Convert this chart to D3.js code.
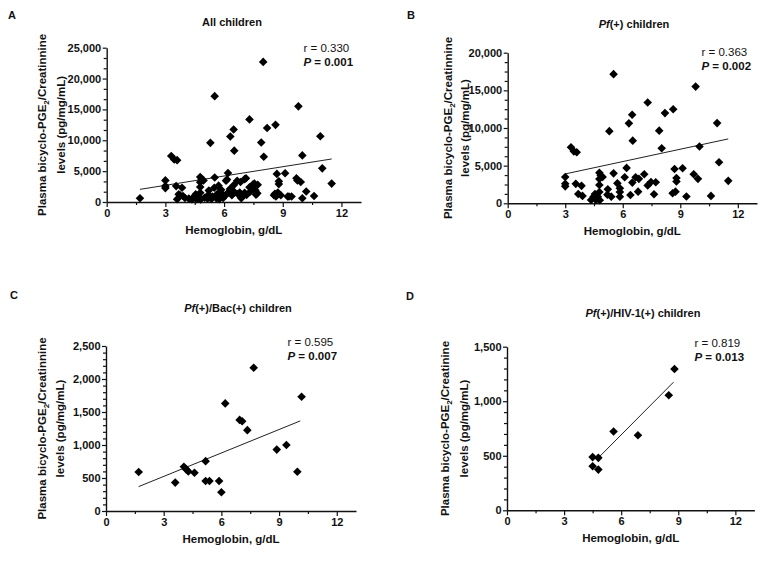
<!DOCTYPE html>
<html><head><meta charset="utf-8">
<script src="https://cdn.jsdelivr.net/npm/d3@7/dist/d3.min.js"></script>
<style>
body{margin:0;background:#fff;}
text{font-family:"Liberation Sans",Arial,Helvetica,sans-serif;fill:#111;}
</style>
</head><body>
<svg id="chart" width="764" height="563"></svg>
<script>
// ---------------- DATA ----------------
const xMajorTicks = [0, 3, 6, 9, 12];
const xMinorTicks = [1.5, 4.5, 7.5, 10.5];

// Pf(+) children (panel B) – hemoglobin g/dL and PGE2/creatinine
const pfHb = [3.0,3.0,3.0,3.3,3.45,3.6,3.55,3.85,3.68,3.9,4.35,4.48,4.55,4.6,4.7,4.78,4.78,4.78,4.78,4.85,4.95,4.8,5.22,5.3,5.2,5.4,5.52,5.52,5.72,5.85,5.85,5.85,6.1,6.2,6.32,6.4,6.49,6.52,6.5,6.67,6.8,6.84,7.12,7.3,7.3,7.47,7.63,7.72,7.9,8.03,8.2,8.63,8.7,8.6,8.75,8.8,8.8,9.12,9.32,9.7,9.8,9.92,10.0,10.6,10.92,11.02,11.5];
const pfPGE = [3500,2600,2250,7450,6900,6780,2580,2320,1240,980,450,880,1240,440,880,1500,2430,3220,4050,3700,3500,400,1860,9580,1150,880,17150,3980,2650,1990,1500,880,3450,4700,10620,1100,11750,8320,2750,3450,1550,3250,3850,13380,2380,2820,1200,2790,9650,7320,11980,12500,4550,1330,1550,3350,2900,4650,900,3850,15500,3250,7550,980,10650,5450,2980];

// additional children shown only in panel A
const otherHb = [1.7,8.0,3.6,3.75,4.0,4.2,4.4,4.65,5.0,5.15,5.35,5.6,5.75,5.95,6.05,6.2,6.3,6.5,6.7,6.88,6.95,7.05,7.15,7.35,7.5,7.55,7.6,7.7,8.55,8.65,8.9,9.25,9.45,10.0,10.2,9.75,6.15,7.05,5.5,5.65];
const otherPGE = [600,22700,450,1100,650,550,500,650,700,550,500,600,450,650,1000,1500,2100,1700,1300,600,1000,1500,1150,1700,2600,3000,1900,1400,1100,900,1100,900,900,600,1700,3500,3650,3700,2300,1300];

// Pf(+)/Bac(+) children (panel C)
const bacHb = [1.7,3.6,4.05,4.18,4.28,4.6,5.18,5.18,5.38,5.88,6.0,6.2,6.95,7.08,7.35,7.68,8.88,9.38,9.95,10.17];
const bacPGE = [590,430,670,630,600,580,755,455,455,455,285,1630,1380,1360,1225,2170,930,1000,595,1730];

// Pf(+)/HIV-1(+) children (panel D)
const hivHb = [4.5,4.8,4.5,4.8,5.6,6.88,8.5,8.8];
const hivPGE = [488,481,404,373,722,688,1055,1295];

// regression line end points [hb, value]
const fitAll = [[1.7, 2050], [11.5, 6970]];
const fitPf  = [[3.0, 3900], [11.5, 8550]];
const fitBac = [[1.7, 370], [10.1, 1365]];
const fitHiv = [[4.85, 490], [8.75, 1175]];

const panelLetters = ["A", "B", "C", "D"];
const rLabels = ["r = 0.330", "r = 0.363", "r = 0.595", "r = 0.819"];
const pLabels = [" = 0.001", " = 0.002", " = 0.007", " = 0.013"];
const yMaxima = [25000, 20000, 2500, 1500];
const yMajorSteps = [5000, 5000, 500, 500];
const yMinorSteps = [5000/3, 1250, 100, 100];

// ---------------- LAYOUT ----------------
const allHb = pfHb.concat(otherHb);
const allPGE = pfPGE.concat(otherPGE);

const panels = [
  {hb: allHb, val: allPGE, fit: fitAll,
   x0:106.7, x1:361, y0:202, y1:47.7,
   letter:[8,19], title:[232,26], titleParts:[["All children",false]],
   ylab:[46,66], stat:[303.5,52,66], creat:"Creatinnine"},
  {hb: pfHb, val: pfPGE, fit: fitPf,
   x0:507.7, x1:757, y0:203.3, y1:52.7,
   letter:[407,19], title:[634,28], titleParts:[["Pf",true],["(+) children",false]],
   ylab:[452,470], stat:[701.5,56,70], creat:"Creatinnine"},
  {hb: bacHb, val: bacPGE, fit: fitBac,
   x0:106, x1:356, y0:511, y1:346,
   letter:[10,299], title:[238,312], titleParts:[["Pf",true],["(+)/Bac(+) children",false]],
   ylab:[46,65], stat:[287.5,346,360], creat:"Creatinnine"},
  {hb: hivHb, val: hivPGE, fit: fitHiv,
   x0:507, x1:754.4, y0:510.3, y1:346.7,
   letter:[406,300], title:[643,317], titleParts:[["Pf",true],["(+)/HIV-1(+) children",false]],
   ylab:[449,469], stat:[694.5,347,361], creat:"Creatinine"}
];

const svg = d3.select("#chart");
const ink = "#111";
const diamond = "M0,-4.3L4.3,0L0,4.3L-4.3,0Z";

panels.forEach((p, i) => {
  const g = svg.append("g");
  const x = d3.scaleLinear().domain([0, 13]).range([p.x0, p.x1]);
  const y = d3.scaleLinear().domain([0, yMaxima[i]]).range([p.y0, p.y1]);

  const yMajor = d3.range(0, yMaxima[i] + 1, yMajorSteps[i]);
  const yMinor = [];
  for (let k = 1; k * yMinorSteps[i] < yMaxima[i] - 1; k++) {
    const v = k * yMinorSteps[i];
    if (Math.abs(v / yMajorSteps[i] - Math.round(v / yMajorSteps[i])) > 1e-6) yMinor.push(v);
  }

  // minor ticks
  g.append("g").attr("transform", `translate(0,${p.y0})`)
    .call(d3.axisBottom(x).tickValues(xMinorTicks).tickSize(3).tickFormat("").tickSizeOuter(0))
    .call(a => a.select(".domain").remove());
  g.append("g").attr("transform", `translate(${p.x0},0)`)
    .call(d3.axisLeft(y).tickValues(yMinor).tickSize(3).tickFormat("").tickSizeOuter(0))
    .call(a => a.select(".domain").remove());

  // major axes
  const xa = g.append("g").attr("transform", `translate(0,${p.y0})`)
    .call(d3.axisBottom(x).tickValues(xMajorTicks).tickSize(5).tickPadding(2).tickSizeOuter(0));
  const ya = g.append("g").attr("transform", `translate(${p.x0},0)`)
    .call(d3.axisLeft(y).tickValues(yMajor).tickSize(4).tickPadding(1.5).tickSizeOuter(0).tickFormat(d3.format(",")));

  g.selectAll(".tick line").attr("stroke", ink).attr("stroke-width", 1.2);
  g.selectAll(".domain").attr("stroke", ink).attr("stroke-width", 1.4);
  [xa, ya].forEach(a => a.selectAll("text")
    .attr("font-size", 11).attr("font-weight", "bold").attr("fill", ink)
    .style("font-family", '"Liberation Sans", Arial, sans-serif'));

  // regression line
  g.append("line")
    .attr("x1", x(p.fit[0][0])).attr("y1", y(p.fit[0][1]))
    .attr("x2", x(p.fit[1][0])).attr("y2", y(p.fit[1][1]))
    .attr("stroke", "#222").attr("stroke-width", 1);

  // points
  g.selectAll("path.pt").data(d3.zip(p.hb, p.val)).enter().append("path")
    .attr("class", "pt").attr("d", diamond)
    .attr("transform", d => `translate(${x(d[0])},${y(d[1])})`)
    .attr("fill", "#000");

  // panel letter
  g.append("text").attr("x", p.letter[0]).attr("y", p.letter[1])
    .attr("font-size", 11).attr("font-weight", "bold").text(panelLetters[i]);

  // title
  const t = g.append("text").attr("x", p.title[0]).attr("y", p.title[1])
    .attr("text-anchor", "middle").attr("font-size", 11).attr("font-weight", "bold");
  p.titleParts.forEach(tp => t.append("tspan").attr("font-style", tp[1] ? "italic" : "normal").text(tp[0]));

  // stats
  g.append("text").attr("x", p.stat[0]).attr("y", p.stat[1])
    .attr("font-size", 11.5).text(rLabels[i]);
  const pt = g.append("text").attr("x", p.stat[0]).attr("y", p.stat[2])
    .attr("font-size", 11.5).attr("font-weight", "bold");
  pt.append("tspan").attr("font-style", "italic").text("P");
  pt.append("tspan").text(pLabels[i]);

  // x label
  g.append("text").attr("x", (p.x0 + p.x1) / 2).attr("y", p.y0 + 32)
    .attr("text-anchor", "middle").attr("font-size", 11.5).attr("font-weight", "bold")
    .text("Hemoglobin, g/dL");

  // y label (two lines, rotated)
  const cy = (p.y0 + p.y1) / 2;
  const l1 = g.append("text").attr("transform", `translate(${p.ylab[0]},${cy}) rotate(-90)`)
    .attr("text-anchor", "middle").attr("font-size", 11.5).attr("font-weight", "bold");
  l1.append("tspan").text("Plasma bicyclo-PGE");
  l1.append("tspan").attr("font-size", 8).attr("dy", 3).text("2");
  l1.append("tspan").attr("dy", -3).text("/" + p.creat);
  g.append("text").attr("transform", `translate(${p.ylab[1] - 1},${cy}) rotate(-90)`)
    .attr("text-anchor", "middle").attr("font-size", 11.5).attr("font-weight", "bold")
    .text("levels (pg/mg/mL)");
});
</script>
</body></html>
